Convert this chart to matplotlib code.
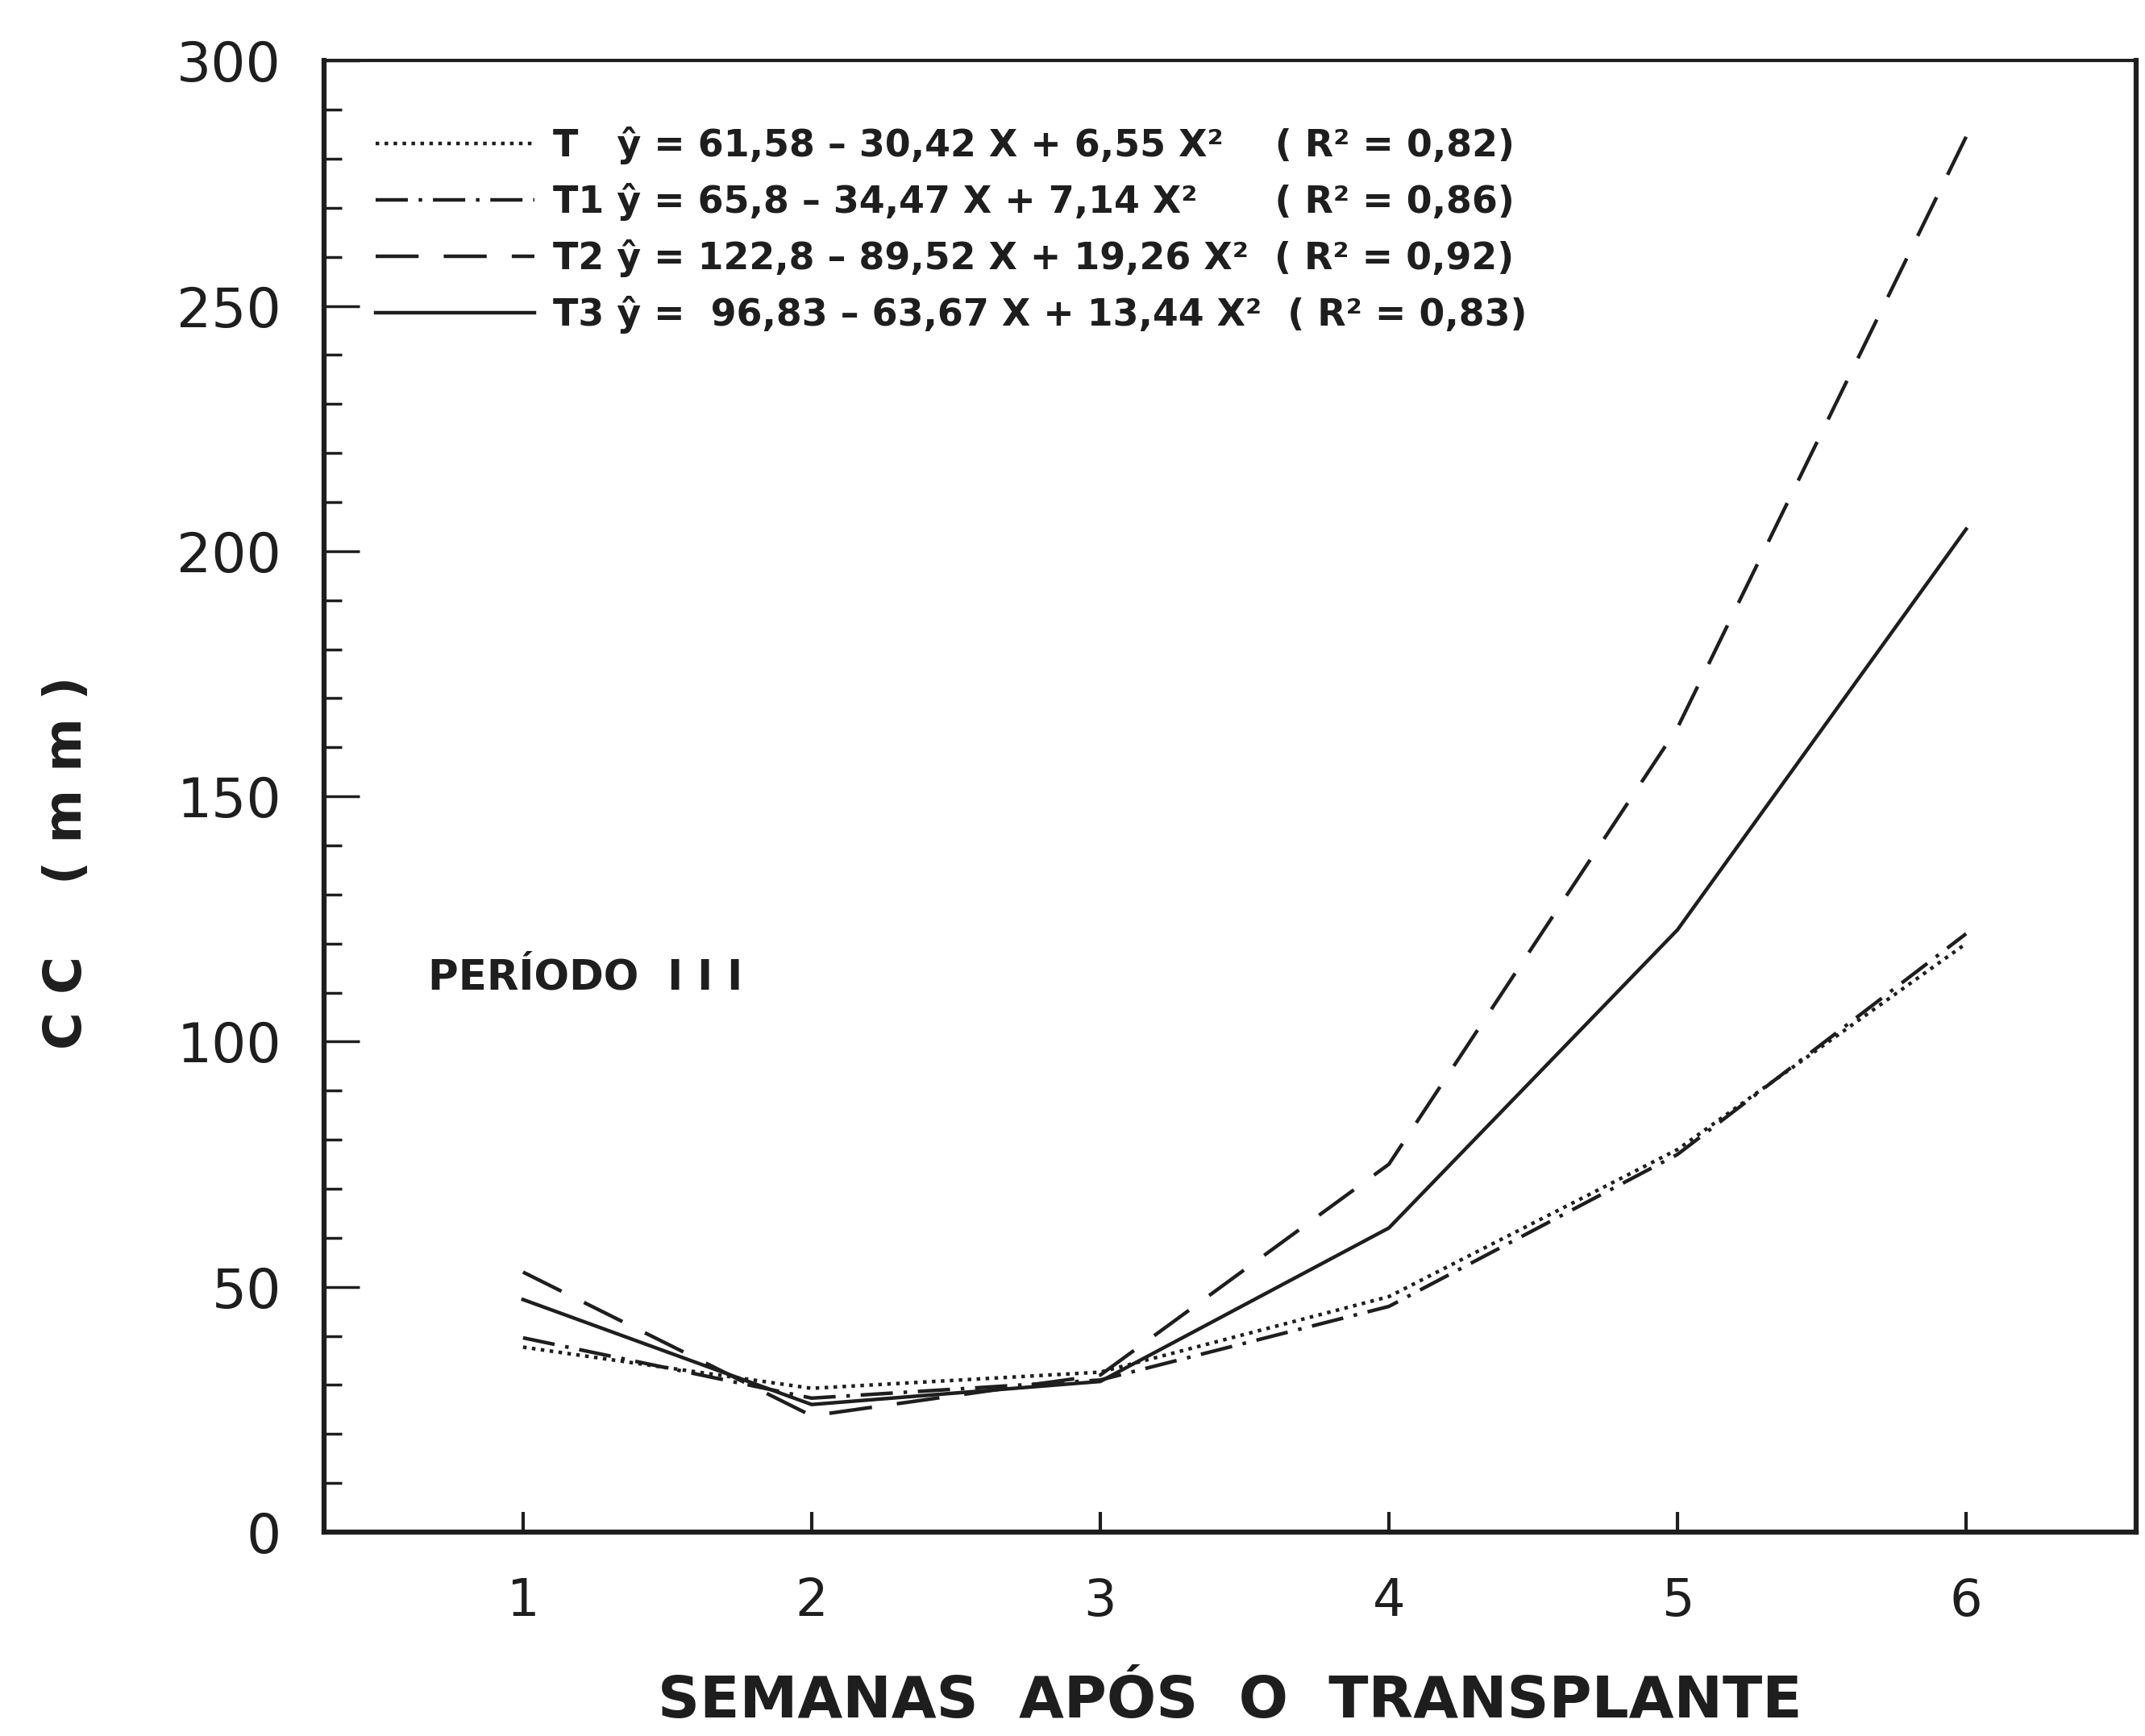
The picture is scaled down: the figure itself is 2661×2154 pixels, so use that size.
import numpy as np
import matplotlib.pyplot as plt
from matplotlib.ticker import MultipleLocator

# semanas apos o transplante
semanas = [1, 2, 3, 4, 5, 6]

# valores (CC em mm)
cc_t = [37.7, 29.3, 32.6, 48.0, 78.0, 120.0]
cc_t1 = [39.6, 27.3, 31.0, 46.0, 77.0, 122.0]
cc_t2 = [53.0, 23.7, 32.0, 75.0, 164.0, 284.5]
cc_t3 = [47.4, 26.0, 30.7, 62.0, 122.8, 204.5]

rotulos = [
    "T   ŷ = 61,58 – 30,42 X + 6,55 X²    ( R² = 0,82)",
    "T1 ŷ = 65,8 – 34,47 X + 7,14 X²      ( R² = 0,86)",
    "T2 ŷ = 122,8 – 89,52 X + 19,26 X²  ( R² = 0,92)",
    "T3 ŷ =  96,83 – 63,67 X + 13,44 X²  ( R² = 0,83)",
]

yticks = [0, 50, 100, 150, 200, 250, 300]

cor = '#1e1e1e'
lw = 3.2

fig = plt.figure(figsize=(26.61, 21.54), dpi=100)
ax = fig.add_axes([0.151, 0.1175, 0.845, 0.8475])

l_t, = ax.plot(semanas, cc_t, color=cor, lw=lw, linestyle=(0, (1, 1.5)))
l_t1, = ax.plot(semanas, cc_t1, color=cor, lw=lw, linestyle=(0, (9, 3, 1, 3)))
l_t2, = ax.plot(semanas, cc_t2, color=cor, lw=lw, linestyle=(0, (12, 7)))
l_t3, = ax.plot(semanas, cc_t3, color=cor, lw=lw, linestyle='-')

ax.set_xlim(0.31, 6.59)
ax.set_ylim(0, 300)

ax.set_xticks(semanas)
ax.set_yticks(yticks)
ax.yaxis.set_minor_locator(MultipleLocator(10))
ax.tick_params(axis='y', which='major', direction='in', length=32, width=2.5,
               labelsize=49, pad=38, colors=cor)
ax.tick_params(axis='y', which='minor', direction='in', length=16, width=2.5, colors=cor)
ax.tick_params(axis='x', which='major', direction='in', length=18, width=3,
               labelsize=46, pad=40, colors=cor)

for s in ax.spines.values():
    s.set_linewidth(4.5)
    s.set_color(cor)
ax.spines['top'].set_linewidth(3)

ax.set_xlabel('SEMANAS  APÓS  O  TRANSPLANTE', fontsize=52, fontweight='bold',
              labelpad=42, color=cor)
ax.set_ylabel('C C    ( m m )', fontsize=46, fontweight='bold', color=cor)
ax.yaxis.set_label_coords(-0.128, 0.455)

ax.text(0.67, 113, 'PERÍODO  I I I', fontsize=37, fontweight='bold', color=cor,
        va='center', ha='left')

ax.legend([l_t, l_t1, l_t2, l_t3], rotulos, loc='upper left',
          bbox_to_anchor=(0.01, 0.978), frameon=False, handlelength=4.3,
          handletextpad=0.5, labelspacing=0.5,
          prop={'size': 33, 'weight': 'bold'}, labelcolor=cor)

fig.savefig('out.png', dpi=100, facecolor='white')
